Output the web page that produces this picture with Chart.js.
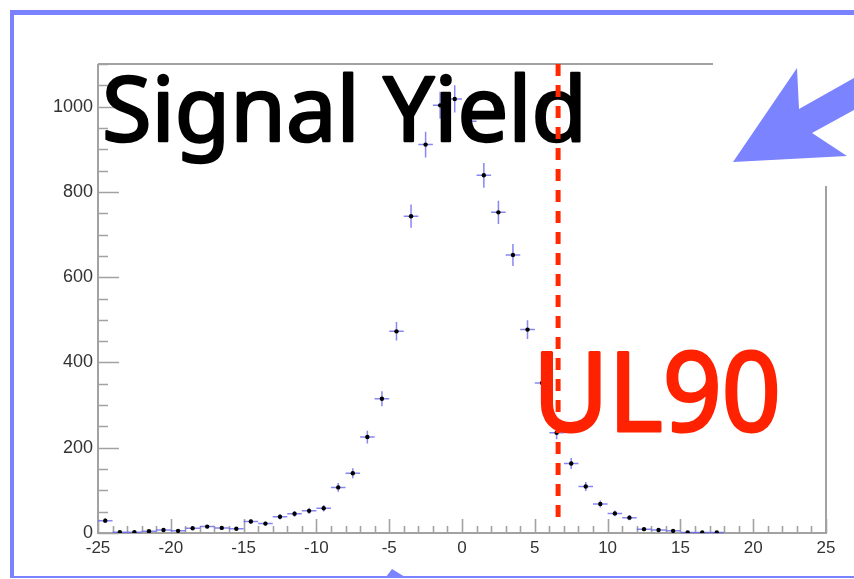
<!DOCTYPE html>
<html><head><meta charset="utf-8">
<script src="https://cdn.jsdelivr.net/npm/chart.js@4/dist/chart.umd.min.js"></script>
<style>html,body{margin:0;padding:0;background:#fff;overflow:hidden}</style>
</head><body>
<canvas id="c" width="854" height="579"></canvas>
<script>
// ---- data ----
const binCenters = [-24.5,-23.5,-22.5,-21.5,-20.5,-19.5,-18.5,-17.5,-16.5,-15.5,
  -14.5,-13.5,-12.5,-11.5,-10.5,-9.5,-8.5,-7.5,-6.5,-5.5,
  -4.5,-3.5,-2.5,-1.5,-0.5,0.5,1.5,2.5,3.5,4.5,
  5.5,6.5,7.5,8.5,9.5,10.5,11.5,12.5,13.5,14.5,
  15.5,16.5,17.5,18.5,19.5,20.5,21.5,22.5,23.5,24.5];
const counts = [29,2,2,4,7,5,11,15,12,10,
  27,22,38,45,52,58,107,140,225,315,
  473,743,911,1003,1018,966,839,752,652,477,
  352,235,163,109,68,46,36,9,7,5,
  1,1,1,null,null,null,null,null,null,null];
const xTickLabels = [-25,-20,-15,-10,-5,0,5,10,15,20,25];
const yTickLabels = [0,200,400,600,800,1000];
const ul90Value = 6.6;
const titleText = 'Signal Yield';
const ulText = 'UL90';

function fitText(ctx, text, x, y, width, stroke) {
  const w = ctx.measureText(text).width;
  ctx.save();
  ctx.translate(x, y);
  ctx.scale(width / w, 1);
  ctx.fillText(text, 0, 0);
  ctx.lineWidth = stroke;
  ctx.lineJoin = 'round';
  ctx.strokeText(text, 0, 0);
  ctx.restore();
}

const deco = {
  id: 'deco',
  beforeDraw(chart) {
    const ctx = chart.ctx;
    ctx.save();
    ctx.fillStyle = '#fff';
    ctx.fillRect(0, 0, chart.width, chart.height);
    ctx.fillStyle = '#7a82ff';
    ctx.fillRect(10, 10, 844, 5);
    ctx.fillRect(10, 10, 4, 568);
    ctx.fillRect(10, 576, 844, 2);
    ctx.restore();
  },
  beforeDatasetsDraw(chart) {
    const {ctx, chartArea: a, scales: {x, y}} = chart;
    ctx.save();
    ctx.strokeStyle = '#a2a2a2';
    ctx.lineWidth = 2;
    ctx.beginPath();
    ctx.moveTo(a.left, a.top); ctx.lineTo(a.left, a.bottom);
    ctx.lineTo(a.right, a.bottom); ctx.lineTo(a.right, a.top);
    ctx.lineTo(a.left, a.top);
    ctx.stroke();
    ctx.lineWidth = 1.6;
    ctx.beginPath();
    for (let v = 0; v <= y.max; v += 50) {
      const py = Math.round(y.getPixelForValue(v)) + 0.5;
      const len = (v % 200 === 0) ? 21 : 10;
      ctx.moveTo(a.left, py); ctx.lineTo(a.left + len, py);
    }
    for (let v = x.min; v <= x.max; v += 1) {
      const px = Math.round(x.getPixelForValue(v)) + 0.5;
      const len = (v % 5 === 0) ? 14 : 7;
      ctx.moveTo(px, a.bottom); ctx.lineTo(px, a.bottom - len);
    }
    ctx.stroke();
    // error bars
    ctx.strokeStyle = 'rgba(95,95,240,0.75)';
    ctx.lineWidth = 1.5;
    ctx.beginPath();
    binCenters.forEach((c, i) => {
      const v = counts[i];
      if (v == null) return;
      const e = Math.sqrt(v);
      const px = x.getPixelForValue(c), py = y.getPixelForValue(v);
      ctx.moveTo(x.getPixelForValue(c - 0.5), py); ctx.lineTo(x.getPixelForValue(c + 0.5), py);
      ctx.moveTo(px, y.getPixelForValue(v - e)); ctx.lineTo(px, y.getPixelForValue(v + e));
    });
    ctx.stroke();
    ctx.restore();
  },
  afterDraw(chart) {
    const {ctx, chartArea: a, scales: {x, y}} = chart;
    ctx.save();
    // white panel covering top-right corner
    ctx.fillStyle = '#fff';
    ctx.fillRect(713, 16, 141, 170);
    // arrow
    ctx.fillStyle = '#7b83ff';
    ctx.beginPath();
    ctx.moveTo(733, 162); ctx.lineTo(797, 68); ctx.lineTo(799, 109);
    ctx.lineTo(854, 78); ctx.lineTo(854, 110); ctx.lineTo(812, 133);
    ctx.lineTo(847, 156); ctx.closePath(); ctx.fill();
    // small arrow head at bottom
    ctx.beginPath();
    ctx.moveTo(386, 577); ctx.lineTo(392, 569); ctx.lineTo(405, 577); ctx.closePath(); ctx.fill();
    // Title text
    ctx.fillStyle = '#000';
    ctx.strokeStyle = '#000';
    ctx.font = '90px "Noto Sans", "DejaVu Sans", sans-serif';
    ctx.textBaseline = 'alphabetic';
    fitText(ctx, titleText, 102, 141, 485, 2.5);
    // UL90 dashed line
    const ux = x.getPixelForValue(ul90Value);
    ctx.strokeStyle = '#ff2a00';
    ctx.lineWidth = 5;
    ctx.setLineDash([12, 9]);
    ctx.beginPath(); ctx.moveTo(ux, a.top); ctx.lineTo(ux, a.bottom - 11); ctx.stroke();
    ctx.setLineDash([]);
    // UL90
    ctx.fillStyle = '#ff2200';
    ctx.strokeStyle = '#ff2200';
    ctx.font = '110px "Noto Sans", "DejaVu Sans", sans-serif';
    fitText(ctx, ulText, 533, 431, 248, 3);
    ctx.restore();
  }
};

new Chart(document.getElementById('c'), {
  type: 'scatter',
  data: {
    datasets: [{
      data: binCenters.map((c, i) => ({x: c, y: counts[i]})),
      pointRadius: 2.2,
      pointBackgroundColor: '#000',
      pointBorderWidth: 0,
      showLine: false
    }]
  },
  options: {
    responsive: false,
    animation: false,
    devicePixelRatio: 1,
    layout: {padding: {left: 0, right: 28, top: 64, bottom: 0}},
    plugins: {legend: {display: false}, tooltip: {enabled: false}},
    scales: {
      x: {
        type: 'linear', min: -25, max: 25,
        grid: {display: false, drawTicks: false},
        border: {display: false},
        afterBuildTicks: s => { s.ticks = xTickLabels.map(v => ({value: v})); },
        afterFit: s => { s.height = 46; },
        ticks: {color: '#333', font: {family: '"Liberation Sans", Arial, sans-serif', size: 17}, padding: 5, maxRotation: 0, autoSkip: false,
          callback: v => String(v)}
      },
      y: {
        type: 'linear', min: 0, max: 1100,
        grid: {display: false, drawTicks: false},
        border: {display: false},
        afterBuildTicks: s => { s.ticks = yTickLabels.map(v => ({value: v})); },
        afterFit: s => { s.width = 98; },
        ticks: {color: '#333', font: {family: '"Liberation Sans", Arial, sans-serif', size: 18}, padding: 5,
          callback: v => String(v)}
      }
    }
  },
  plugins: [deco]
});
</script>
</body></html>
